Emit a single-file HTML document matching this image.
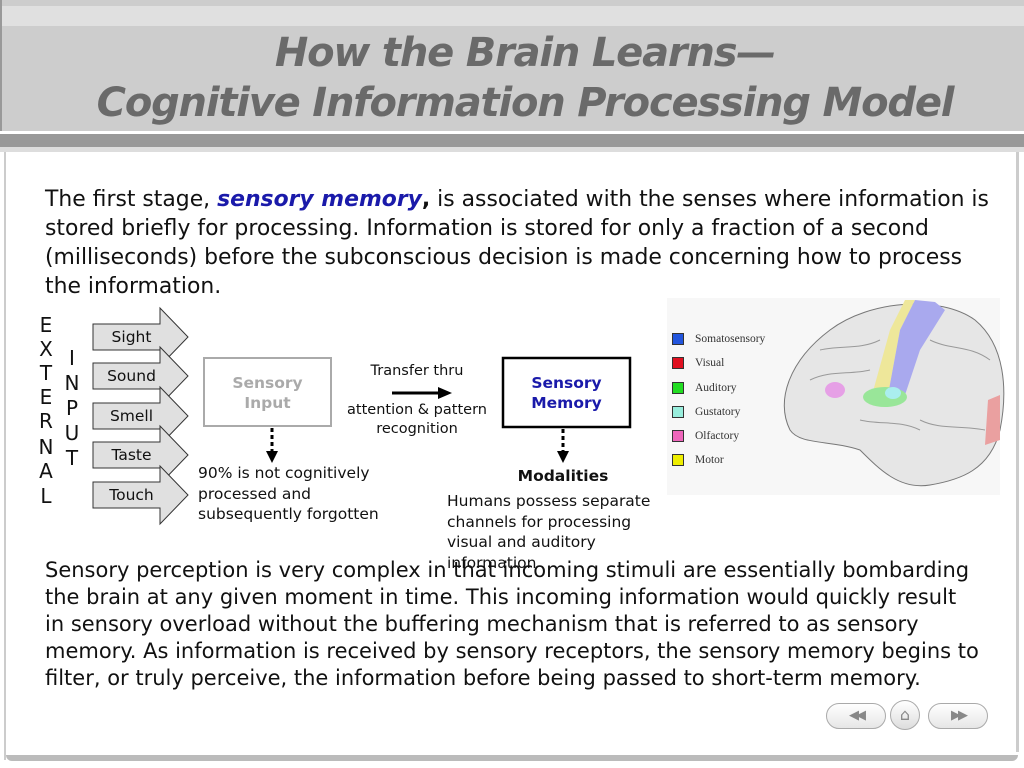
<!DOCTYPE html>
<html><head><meta charset="utf-8"><style>
body{margin:0;width:1024px;height:768px;overflow:hidden;background:#fff;position:relative;font-family:"DejaVu Sans","Liberation Sans",sans-serif}
.a{position:absolute;white-space:nowrap}
.t{position:absolute;left:13px;width:1024px;text-align:center;color:#6a6a6a;font-weight:bold;font-style:italic;font-size:40px;font-family:"DejaVu Sans",sans-serif;letter-spacing:-1.2px}
.p1{left:45px;font-size:21.9px;color:#111}
.p2{left:45px;font-size:21px;color:#111}
.s{font-size:15.5px;color:#111}
.lt{position:absolute;font-size:20px;color:#111;width:20px;text-align:center}
.lg{position:absolute;left:672px;width:10px;height:10px;border:1px solid #333}
.lgt{position:absolute;left:695px;font-family:"Liberation Serif",serif;font-size:11.5px;color:#333}
</style></head><body>
<div style="position:absolute;left:0;top:0;width:1024px;height:131px;background:#cdcdcd"></div>
<div style="position:absolute;left:0;top:6px;width:1024px;height:20px;background:#e0e0e0"></div>
<div style="position:absolute;left:0;top:0;width:2px;height:131px;background:#999"></div>
<div style="position:absolute;left:0;top:134px;width:1024px;height:13px;background:#999"></div>
<div style="position:absolute;left:0;top:147px;width:1024px;height:5px;background:#ddd"></div>
<div style="position:absolute;left:4px;top:152px;width:2px;height:608px;background:#ccc"></div>
<div style="position:absolute;left:1016px;top:152px;width:3px;height:600px;background:#ccc"></div>
<div style="position:absolute;left:6px;top:755px;width:1012px;height:6px;background:#bbb;border-radius:0 0 8px 8px"></div>
<div class="t" style="top:30px">How the Brain Learns—</div>
<div class="t" style="top:80px">Cognitive Information Processing Model</div>

<div class="a p1" style="top:187px">The first stage, <b style="color:#1a1aaa;font-style:italic">sensory memory</b><b>,</b> is associated with the senses where information is</div>
<div class="a p1" style="top:216px">stored briefly for processing. Information is stored for only a fraction of a second</div>
<div class="a p1" style="top:245px">(milliseconds) before the subconscious decision is made concerning how to process</div>
<div class="a p1" style="top:274px">the information.</div>

<div class="lt" style="left:36px;top:313px">E</div><div class="lt" style="left:36px;top:337px">X</div><div class="lt" style="left:36px;top:361px">T</div><div class="lt" style="left:36px;top:385px">E</div><div class="lt" style="left:36px;top:409px">R</div><div class="lt" style="left:36px;top:435px">N</div><div class="lt" style="left:36px;top:459px">A</div><div class="lt" style="left:36px;top:484px">L</div>
<div class="lt" style="left:62px;top:346px">I</div><div class="lt" style="left:62px;top:371px">N</div><div class="lt" style="left:62px;top:396px">P</div><div class="lt" style="left:62px;top:421px">U</div><div class="lt" style="left:62px;top:446px">T</div>

<svg style="position:absolute;left:0;top:0" width="1024" height="768">
<g fill="#e0e0e0" stroke="#333" stroke-width="1">
<polygon points="93,324 160,324 160,308 188,337 160,366 160,350 93,350"/>
<polygon points="93,363 160,363 160,347 188,376 160,405 160,389 93,389"/>
<polygon points="93,403 160,403 160,387 188,416 160,445 160,429 93,429"/>
<polygon points="93,442 160,442 160,426 188,455 160,484 160,468 93,468"/>
<polygon points="93,482 160,482 160,466 188,495 160,524 160,508 93,508"/>
</g>
<rect x="204" y="358" width="127" height="68" fill="#fff" stroke="#aaa" stroke-width="2"/>
<rect x="503" y="358" width="127" height="69" fill="#fff" stroke="#000" stroke-width="2.5"/>
<line x1="392" y1="393" x2="440" y2="393" stroke="#000" stroke-width="3"/>
<polygon points="438,387 452,393 438,399" fill="#000"/>
<line x1="272" y1="428" x2="272" y2="452" stroke="#000" stroke-width="3" stroke-dasharray="4,3"/>
<polygon points="266,451 278,451 272,463" fill="#000"/>
<line x1="563" y1="429" x2="563" y2="452" stroke="#000" stroke-width="3" stroke-dasharray="4,3"/>
<polygon points="557,451 569,451 563,463" fill="#000"/>
<rect x="667" y="298" width="333" height="197" fill="#f7f7f7"/>
<path d="M790,430 C775,400 790,360 830,330 C870,300 940,295 975,320 C1005,345 1008,390 1000,430 C990,470 960,480 930,485 C900,490 880,470 860,450 C830,440 800,445 790,430Z" fill="#e6e6e6" stroke="#777"/>
<polygon points="872,395 890,330 905,300 915,300 900,330 888,395" fill="#eee79a"/>
<polygon points="888,395 900,330 915,300 935,302 945,310 920,350 905,395" fill="#a9a9ee"/>
<ellipse cx="885" cy="397" rx="22" ry="10" fill="#99e699"/>
<ellipse cx="893" cy="393" rx="8" ry="6" fill="#aaeeee"/>
<ellipse cx="835" cy="390" rx="10" ry="8" fill="#e6a0e6"/>
<path d="M988,400 L1000,395 L1000,440 L985,445Z" fill="#eaa0a0"/>
<g fill="none" stroke="#999" stroke-width="1">
<path d="M810,380 C830,370 850,375 870,370"/><path d="M820,350 C840,345 860,350 880,340"/><path d="M930,340 C950,350 970,345 990,360"/><path d="M920,420 C940,430 960,425 985,430"/><path d="M860,420 C880,425 900,420 920,430"/>
</g>
</svg>
<div class="a s" style="left:93px;top:328px;width:77px;text-align:center">Sight</div>
<div class="a s" style="left:93px;top:367px;width:77px;text-align:center">Sound</div>
<div class="a s" style="left:93px;top:407px;width:77px;text-align:center">Smell</div>
<div class="a s" style="left:93px;top:446px;width:77px;text-align:center">Taste</div>
<div class="a s" style="left:93px;top:486px;width:77px;text-align:center">Touch</div>
<div class="a" style="left:204px;top:373px;width:127px;text-align:center;color:#aaa;font-weight:bold;font-size:15.5px;line-height:20px">Sensory<br>Input</div>
<div class="a" style="left:503px;top:373px;width:127px;text-align:center;color:#1a1aaa;font-weight:bold;font-size:15.5px;line-height:20px">Sensory<br>Memory</div>
<div class="a" style="left:340px;top:363px;width:154px;text-align:center;font-size:14.5px;color:#111">Transfer thru</div>
<div class="a" style="left:340px;top:401px;width:154px;text-align:center;font-size:14.5px;color:#111;line-height:19px">attention &amp; pattern<br>recognition</div>
<div class="a" style="left:198px;top:463px;font-size:15.5px;color:#111;line-height:20.5px">90% is not cognitively<br>processed and<br>subsequently forgotten</div>
<div class="a" style="left:500px;top:467px;width:126px;text-align:center;font-size:15.5px;font-weight:bold;color:#111">Modalities</div>
<div class="a" style="left:447px;top:491px;font-size:15.5px;color:#111;line-height:20.5px">Humans possess separate<br>channels for processing<br>visual and auditory<br>information</div>

<div class="lg" style="top:333px;background:#2255dd"></div><div class="lgt" style="top:333px">Somatosensory</div>
<div class="lg" style="top:357px;background:#e01020"></div><div class="lgt" style="top:357px">Visual</div>
<div class="lg" style="top:382px;background:#22dd22"></div><div class="lgt" style="top:382px">Auditory</div>
<div class="lg" style="top:406px;background:#99eedd"></div><div class="lgt" style="top:406px">Gustatory</div>
<div class="lg" style="top:430px;background:#ee66bb"></div><div class="lgt" style="top:430px">Olfactory</div>
<div class="lg" style="top:454px;background:#eeee00"></div><div class="lgt" style="top:454px">Motor</div>

<div class="a p2" style="top:558px">Sensory perception is very complex in that incoming stimuli are essentially bombarding</div>
<div class="a p2" style="top:585px">the brain at any given moment in time. This incoming information would quickly result</div>
<div class="a p2" style="top:612px">in sensory overload without the buffering mechanism that is referred to as sensory</div>
<div class="a p2" style="top:639px">memory. As information is received by sensory receptors, the sensory memory begins to</div>
<div class="a p2" style="top:666px">filter, or truly perceive, the information before being passed to short-term memory.</div>

<div style="position:absolute;left:826px;top:703px;width:58px;height:24px;border:1px solid #aaa;border-radius:13px;background:linear-gradient(#fff,#e6e6e6);text-align:center;color:#888;font-size:13px;line-height:24px;letter-spacing:-3px">◀◀</div>
<div style="position:absolute;left:890px;top:700px;width:28px;height:28px;border:1px solid #aaa;border-radius:50%;background:linear-gradient(#fff,#ddd);text-align:center;color:#888;font-size:16px;line-height:28px">⌂</div>
<div style="position:absolute;left:928px;top:703px;width:58px;height:24px;border:1px solid #aaa;border-radius:13px;background:linear-gradient(#fff,#e6e6e6);text-align:center;color:#888;font-size:13px;line-height:24px;letter-spacing:-3px">▶▶</div>
</body></html>
